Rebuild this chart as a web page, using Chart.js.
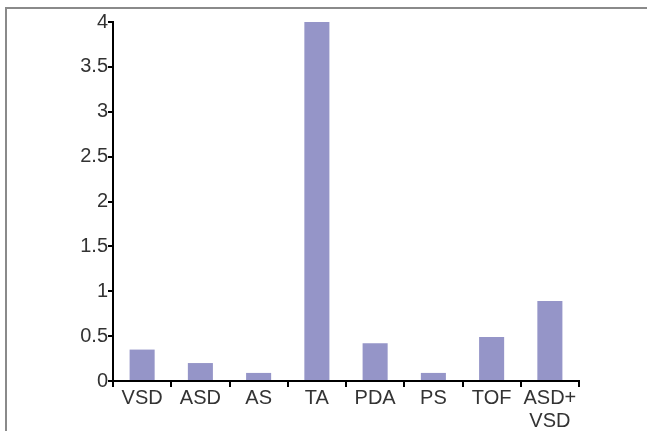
<!DOCTYPE html>
<html>
<head>
<meta charset="utf-8">
<script src="https://cdn.jsdelivr.net/npm/chart.js@4/dist/chart.umd.min.js"></script>
<style>
  html, body { margin: 0; padding: 0; background: #fff; overflow: hidden; }
  #wrap { position: relative; width: 647px; height: 431px; overflow: hidden; }
  #frame { position: absolute; left: 5px; top: 7px; width: 700px; height: 500px;
           border-left: 2px solid #8a8a8a; border-top: 2px solid #8a8a8a; }
  canvas { position: absolute; left: 0; top: 0; }
</style>
</head>
<body>
<div id="wrap">
  <div id="frame"></div>
  <canvas id="chart" width="647" height="431"></canvas>
</div>
<script>
// defect types and their values
const categories = ["VSD", "ASD", "AS", "TA", "PDA", "PS", "TOF", ["ASD+", "VSD"]];
const values = [0.35, 0.2, 0.09, 4, 0.42, 0.09, 0.49, 0.89];
const yTicks = [0, 0.5, 1, 1.5, 2, 2.5, 3, 3.5, 4];

const ctx = document.getElementById("chart");
new Chart(ctx, {
    type: "bar",
    data: {
        labels: categories,
        datasets: [{
            data: values,
            backgroundColor: "#9595c8",
            barPercentage: 0.43,
            categoryPercentage: 1
        }]
    },
    options: {
        responsive: false,
        animation: false,
        layout: { padding: { left: 0, right: 68, top: 22, bottom: 0 } },
        plugins: { legend: { display: false }, tooltip: { enabled: false } },
        scales: {
            x: {
                offset: true,
                grid: { display: true, offset: true, drawOnChartArea: false, drawTicks: true,
                        tickLength: 6, color: "#000", lineWidth: 2 },
                border: { color: "#000", width: 2 },
                ticks: { color: "#333", font: { family: "Liberation Sans, Arial", size: 20, lineHeight: 1.15 },
                         padding: 0, maxRotation: 0, autoSkip: false },
                afterFit: (s) => { s.height = 50; }
            },
            y: {
                min: 0, max: 4,
                afterBuildTicks: (s) => { s.ticks = yTicks.map(v => ({ value: v })); },
                grid: { display: true, drawOnChartArea: false, drawTicks: true,
                        tickLength: 5, color: "#000", lineWidth: 2 },
                border: { color: "#000", width: 2 },
                ticks: { color: "#333", font: { family: "Liberation Sans, Arial", size: 20 },
                         padding: 0, callback: (v) => String(v) },
                afterFit: (s) => { s.width = 113; }
            }
        }
    }
});
</script>
</body>
</html>
